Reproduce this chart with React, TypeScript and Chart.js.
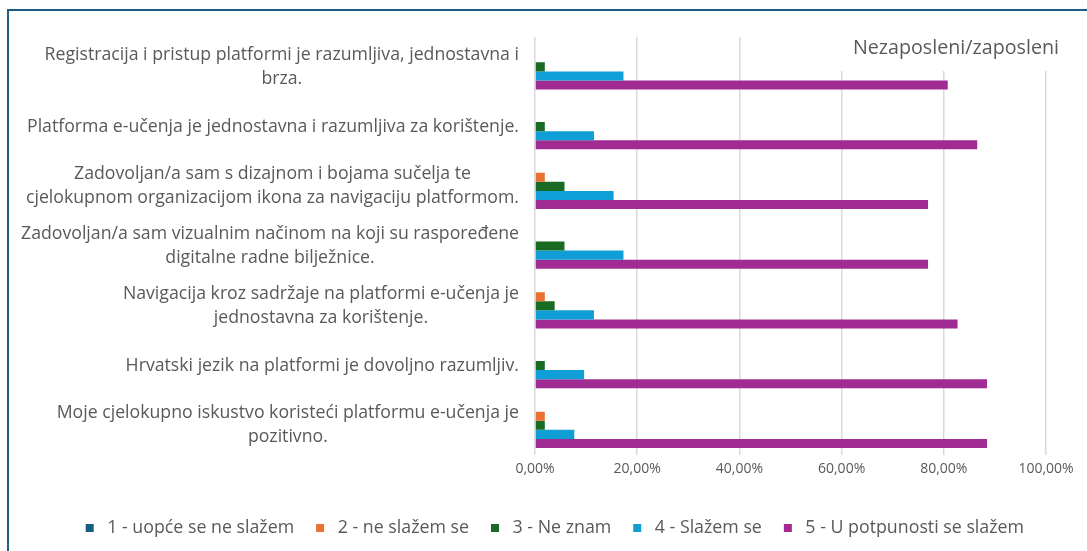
import { useEffect, useRef } from 'react';
import { Chart, registerables } from 'chart.js';

Chart.register(...registerables);

const categories: string[][] = [
  ['Registracija i pristup platformi je razumljiva, jednostavna i', 'brza.'],
  ['Platforma e-učenja je jednostavna i razumljiva za korištenje.'],
  ['Zadovoljan/a sam s dizajnom i bojama sučelja te', 'cjelokupnom organizacijom ikona za navigaciju platformom.'],
  ['Zadovoljan/a sam vizualnim načinom na koji su raspoređene', 'digitalne radne bilježnice.'],
  ['Navigacija kroz sadržaje na platformi e-učenja je', 'jednostavna za korištenje.'],
  ['Hrvatski jezik na platformi je dovoljno razumljiv.'],
  ['Moje cjelokupno iskustvo koristeći platformu e-učenja je', 'pozitivno.'],
];

const seriesNames = [
  '1 - uopće se ne slažem',
  '2 - ne slažem se',
  '3 - Ne znam',
  '4 - Slažem se',
  '5 - U potpunosti se slažem',
];

const s1 = [0, 0, 0, 0, 0, 0, 0];
const s2 = [0, 0, 0.0192, 0, 0.0192, 0, 0.0192];
const s3 = [0.0192, 0.0192, 0.0577, 0.0577, 0.0385, 0.0192, 0.0192];
const s4 = [0.1731, 0.1154, 0.1538, 0.1731, 0.1154, 0.0962, 0.0769];
const s5 = [0.8077, 0.8654, 0.7692, 0.7692, 0.8269, 0.8846, 0.8846];

const seriesColors = ['#156082', '#E97132', '#196B24', '#0F9ED5', '#A02B93'];
const xTicks = [0, 0.2, 0.4, 0.6, 0.8, 1];
const chartTitle = 'Nezaposleni/zaposleni';

const FONT = "'Open Sans', sans-serif";
const TEXT = '#595959';

const yLabelPlugin = {
  id: 'yLabelBlocks',
  afterDraw(chart: any) {
    const ctx = chart.ctx;
    const y = chart.scales.y;
    const right = chart.chartArea.left - 16;
    ctx.save();
    ctx.font = `17.7px ${FONT}`;
    ctx.fillStyle = TEXT;
    ctx.textAlign = 'center';
    ctx.textBaseline = 'middle';
    const lh = 24;
    categories.forEach((lines, i) => {
      const cy = y.getPixelForValue(i);
      const maxW = Math.max(...lines.map((l) => ctx.measureText(l).width));
      const cx = right - maxW / 2;
      lines.forEach((l, j) => {
        ctx.fillText(l, cx, cy + (j - (lines.length - 1) / 2) * lh);
      });
    });
    ctx.restore();
  },
};

const titlePlugin = {
  id: 'cornerTitle',
  afterDatasetsDraw(chart: any) {
    const ctx = chart.ctx;
    const { right, top } = chart.chartArea;
    ctx.save();
    ctx.font = `19.7px ${FONT}`;
    const tx = right + 13;
    const w = ctx.measureText(chartTitle).width;
    ctx.fillStyle = '#ffffff';
    ctx.fillRect(tx - w - 12, top - 10, w + 28, 44);
    ctx.fillStyle = TEXT;
    ctx.textAlign = 'right';
    ctx.textBaseline = 'middle';
    ctx.fillText(chartTitle, tx, top + 11);
    ctx.restore();
  },
};

export default function App() {
  const ref = useRef<HTMLCanvasElement>(null);

  useEffect(() => {
    document.documentElement.style.overflow = 'hidden';
    const series = [s1, s2, s3, s4, s5];
    const chart = new Chart(ref.current as HTMLCanvasElement, {
      type: 'bar',
      data: {
        labels: categories,
        datasets: series.map((d, i) => ({
          label: seriesNames[i],
          data: d,
          backgroundColor: seriesColors[i],
          borderWidth: 0,
          barPercentage: 1,
          categoryPercentage: 0.757,
        })),
      },
      options: {
        indexAxis: 'y',
        animation: false,
        responsive: false,
        maintainAspectRatio: false,
        layout: { padding: { top: 26, right: 41, left: 0, bottom: 4 } },
        scales: {
          x: {
            min: 0,
            max: 1,
            afterBuildTicks: (scale: any) => {
              scale.ticks = xTicks.map((v) => ({ value: v }));
            },
            afterFit: (scale: any) => {
              scale.height = 42;
            },
            grid: { color: '#D9D9D9', lineWidth: 1.5, drawTicks: false },
            border: { display: false },
            ticks: {
              padding: 5,
              color: TEXT,
              font: { family: FONT, size: 14 },
              callback: (v: any) => (Number(v) * 100).toFixed(2).replace('.', ',') + '%',
            },
          },
          y: {
            grid: { display: false },
            border: { display: false },
            ticks: { display: false },
            afterFit: (scale: any) => {
              scale.width = 526;
            },
          },
        },
        plugins: {
          legend: {
            position: 'bottom',
            align: 'end',
            labels: {
              boxWidth: 8,
              boxHeight: 8,
              padding: 22,
              color: TEXT,
              font: { family: FONT, size: 17.8 },
              generateLabels: (chart: any) =>
                Chart.defaults.plugins.legend.labels
                  .generateLabels(chart)
                  .map((item: any) => ({ ...item, text: ' ' + item.text })),
            },
          },
          tooltip: { enabled: false },
        },
      },
      plugins: [yLabelPlugin, titlePlugin],
    } as any);
    return () => chart.destroy();
  }, []);

  return (
    <div
      style={{
        position: 'fixed',
        left: 7,
        top: 9,
        width: 1200,
        height: 700,
        border: '2px solid #1B5E82',
        background: '#fff',
      }}
    >
      <canvas ref={ref} width={1078} height={540} style={{ display: 'block' }} />
    </div>
  );
}
